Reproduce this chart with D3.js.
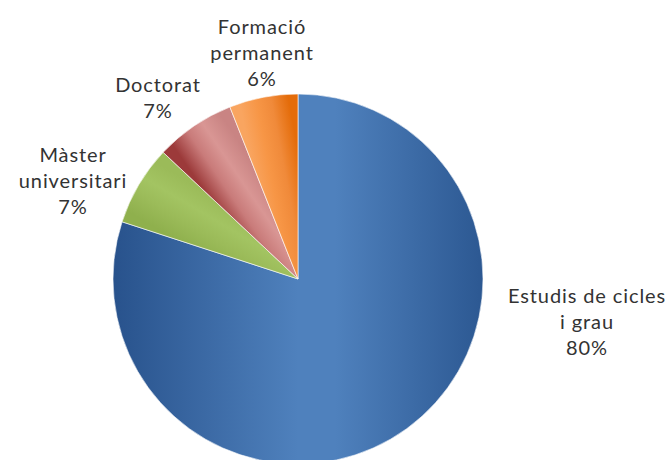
<!DOCTYPE html>
<html>
<head>
<meta charset="utf-8">
<script src="https://cdn.jsdelivr.net/npm/d3@7"></script>
<style>
  body { margin: 0; background: #fff; }
  text { font-family: Lato, "Open Sans", sans-serif; fill: #333; }
</style>
</head>
<body>
<svg id="chart"></svg>
<script>
var width = 671, height = 460;

// data
var categories = ["Estudis de cicles i grau", "Màster universitari", "Doctorat", "Formació permanent"];
var values = [80, 7, 7, 6];
var labelLines = [["Estudis de cicles", "i grau"], ["Màster", "universitari"], ["Doctorat"], ["Formació", "permanent"]];
var shades = [
    ["#28528c", "#4f81bd", "#4f81bd", "#2c5892"],
    ["#8fb04d", "#9bbb59", "#a3c462", "#9bbb59"],
    ["#9c3a3a", "#c97b7a", "#d99694", "#c98483"],
    ["#f9a560", "#f79646", "#f08a3a", "#e46c0a"]
];
var labelPos = [[587, 303], [73, 162], [158, 92], [262, 34]];

var cx = 298, cy = 279, r = 185;

var svg = d3.select("#chart").attr("width", width).attr("height", height);
var defs = svg.append("defs");
var g = svg.append("g").attr("transform", "translate(" + cx + "," + cy + ")");

var pie = d3.pie().sort(null).value(d => d.v);
var arc = d3.arc().innerRadius(0).outerRadius(r);
var data = pie(values.map((v, i) => ({ v: v, i: i })));

data.forEach(function (d) {
    var grad = defs.append("linearGradient")
        .attr("id", "grad" + d.data.i)
        .attr("gradientUnits", "userSpaceOnUse");
    var st;
    if (d.data.i === 0) {
        grad.attr("x1", -r).attr("y1", 0).attr("x2", r).attr("y2", 0);
        st = [0, 0.5, 0.6, 1];
    } else {
        // across the slice, start edge -> end edge
        var a0 = d.startAngle, a1 = d.endAngle;
        grad.attr("x1", Math.sin(a0) * r * 0.7).attr("y1", -Math.cos(a0) * r * 0.7)
            .attr("x2", Math.sin(a1) * r * 0.7).attr("y2", -Math.cos(a1) * r * 0.7);
        st = [0, 0.35, 0.65, 1];
    }
    shades[d.data.i].forEach(function (c, k) {
        grad.append("stop").attr("offset", st[k]).attr("stop-color", c);
    });
});

g.selectAll("path")
    .data(data)
    .enter()
    .append("path")
    .attr("d", arc)
    .attr("fill", d => "url(#grad" + d.data.i + ")")
    .attr("stroke", "#fff")
    .attr("stroke-width", 0.6);

var fmt = d3.format(".0%");
var total = d3.sum(values);
var lineH = 26;

svg.selectAll("text.lbl")
    .data(data)
    .enter()
    .append("text")
    .attr("class", "lbl")
    .attr("text-anchor", "middle")
    .attr("font-size", 20)
    .attr("letter-spacing", 0.9)
    .each(function (d) {
        var t = d3.select(this);
        var p = labelPos[d.data.i];
        var lines = labelLines[d.data.i].concat([fmt(d.data.v / total)]);
        lines.forEach(function (s, k) {
            t.append("tspan").attr("x", p[0]).attr("y", p[1] + k * lineH).text(s);
        });
    });
</script>
</body>
</html>
